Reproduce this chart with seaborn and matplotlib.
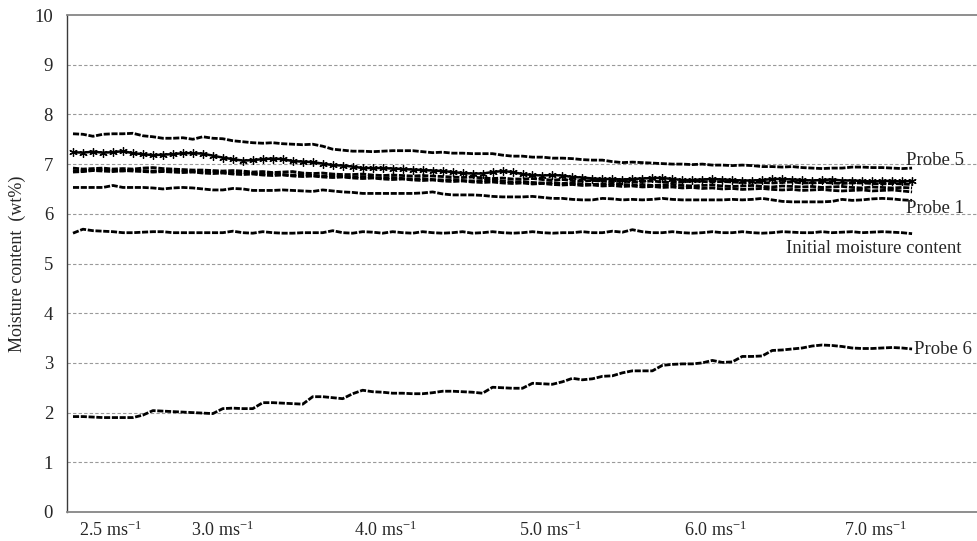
import numpy as np
import pandas as pd
import matplotlib
matplotlib.use("Agg")
import matplotlib.pyplot as plt
import seaborn as sns

# Moisture content (wt%) logged along the wind-speed ramp, one reading per sample
probe5 = [7.61, 7.60, 7.56, 7.60, 7.61, 7.61, 7.62, 7.57, 7.55, 7.52, 7.52, 7.53, 7.50, 7.55, 7.52,
          7.51, 7.47, 7.45, 7.43, 7.42, 7.43, 7.41, 7.40, 7.39, 7.40, 7.36, 7.30, 7.28, 7.26, 7.26,
          7.25, 7.26, 7.27, 7.27, 7.27, 7.25, 7.23, 7.24, 7.22, 7.22, 7.21, 7.21, 7.21, 7.18, 7.16,
          7.16, 7.14, 7.14, 7.12, 7.12, 7.11, 7.09, 7.08, 7.08, 7.05, 7.03, 7.04, 7.03, 7.02, 7.01,
          7.00, 7.00, 6.99, 7.00, 6.98, 6.98, 6.97, 6.98, 6.97, 6.95, 6.95, 6.94, 6.95, 6.93, 6.92,
          6.91, 6.92, 6.92, 6.94, 6.94, 6.93, 6.93, 6.92, 6.91, 6.92]

probe_star = [7.24, 7.23, 7.25, 7.23, 7.24, 7.26, 7.22, 7.20, 7.18, 7.19, 7.20, 7.22, 7.22, 7.21, 7.17,
              7.13, 7.10, 7.07, 7.08, 7.10, 7.11, 7.10, 7.06, 7.05, 7.04, 7.01, 6.98, 6.97, 6.95, 6.92,
              6.92, 6.92, 6.91, 6.90, 6.89, 6.88, 6.87, 6.86, 6.84, 6.82, 6.81, 6.81, 6.84, 6.86, 6.84,
              6.80, 6.78, 6.77, 6.78, 6.77, 6.74, 6.73, 6.71, 6.70, 6.70, 6.69, 6.70, 6.71, 6.72, 6.72,
              6.70, 6.68, 6.68, 6.69, 6.70, 6.69, 6.68, 6.67, 6.67, 6.68, 6.70, 6.70, 6.69, 6.68, 6.67,
              6.68, 6.69, 6.67, 6.67, 6.66, 6.65, 6.66, 6.66, 6.65, 6.66]

probe_a = [6.92, 6.90, 6.91, 6.92, 6.90, 6.91, 6.90, 6.92, 6.93, 6.91, 6.90, 6.89, 6.88, 6.88, 6.87,
           6.86, 6.87, 6.86, 6.84, 6.85, 6.83, 6.84, 6.85, 6.82, 6.81, 6.82, 6.80, 6.79, 6.79, 6.80,
           6.78, 6.77, 6.78, 6.77, 6.76, 6.77, 6.76, 6.75, 6.74, 6.73, 6.74, 6.72, 6.71, 6.72, 6.70,
           6.70, 6.71, 6.69, 6.68, 6.69, 6.67, 6.66, 6.67, 6.66, 6.65, 6.66, 6.64, 6.65, 6.66, 6.64,
           6.63, 6.64, 6.66, 6.65, 6.64, 6.65, 6.64, 6.63, 6.64, 6.63, 6.62, 6.63, 6.64, 6.62, 6.62,
           6.63, 6.62, 6.61, 6.62, 6.62, 6.61, 6.60, 6.61, 6.60, 6.59]

probe_b = [6.87, 6.86, 6.88, 6.89, 6.87, 6.86, 6.88, 6.87, 6.86, 6.87, 6.88, 6.86, 6.85, 6.84, 6.85,
           6.83, 6.82, 6.83, 6.81, 6.80, 6.81, 6.79, 6.78, 6.79, 6.77, 6.76, 6.77, 6.75, 6.74, 6.75,
           6.73, 6.72, 6.73, 6.71, 6.70, 6.71, 6.69, 6.68, 6.69, 6.67, 6.66, 6.67, 6.68, 6.66, 6.64,
           6.65, 6.63, 6.62, 6.63, 6.61, 6.62, 6.60, 6.59, 6.60, 6.61, 6.59, 6.58, 6.59, 6.57, 6.58,
           6.59, 6.57, 6.56, 6.57, 6.58, 6.56, 6.55, 6.56, 6.57, 6.55, 6.54, 6.56, 6.55, 6.54, 6.55,
           6.53, 6.54, 6.55, 6.53, 6.52, 6.54, 6.53, 6.52, 6.53, 6.52]

probe_c = [6.84, 6.85, 6.87, 6.86, 6.85, 6.87, 6.86, 6.85, 6.84, 6.85, 6.84, 6.83, 6.84, 6.82, 6.81,
           6.82, 6.80, 6.79, 6.80, 6.78, 6.77, 6.78, 6.76, 6.75, 6.76, 6.74, 6.73, 6.74, 6.72, 6.71,
           6.72, 6.70, 6.69, 6.70, 6.68, 6.67, 6.68, 6.66, 6.65, 6.66, 6.64, 6.63, 6.64, 6.62, 6.61,
           6.62, 6.60, 6.61, 6.59, 6.58, 6.59, 6.57, 6.58, 6.56, 6.57, 6.55, 6.56, 6.54, 6.55, 6.53,
           6.54, 6.52, 6.53, 6.51, 6.52, 6.50, 6.51, 6.49, 6.50, 6.51, 6.49, 6.48, 6.49, 6.47, 6.48,
           6.49, 6.47, 6.46, 6.47, 6.48, 6.46, 6.47, 6.48, 6.46, 6.44]

probe1 = [6.53, 6.53, 6.53, 6.53, 6.57, 6.53, 6.53, 6.53, 6.52, 6.50, 6.52, 6.53, 6.52, 6.50, 6.48,
          6.48, 6.51, 6.50, 6.47, 6.47, 6.47, 6.48, 6.47, 6.46, 6.45, 6.48, 6.46, 6.44, 6.43, 6.41,
          6.41, 6.41, 6.41, 6.41, 6.41, 6.42, 6.44, 6.40, 6.38, 6.38, 6.38, 6.37, 6.35, 6.34, 6.34,
          6.34, 6.35, 6.33, 6.31, 6.31, 6.29, 6.28, 6.28, 6.31, 6.30, 6.28, 6.29, 6.28, 6.29, 6.31,
          6.29, 6.28, 6.28, 6.28, 6.28, 6.28, 6.29, 6.28, 6.29, 6.31, 6.28, 6.25, 6.24, 6.24, 6.24,
          6.24, 6.25, 6.29, 6.27, 6.28, 6.30, 6.31, 6.30, 6.28, 6.27]

initial = [5.61, 5.69, 5.66, 5.65, 5.64, 5.62, 5.62, 5.63, 5.64, 5.64, 5.62, 5.62, 5.62, 5.62, 5.62,
           5.62, 5.65, 5.62, 5.61, 5.64, 5.62, 5.61, 5.61, 5.62, 5.62, 5.62, 5.66, 5.62, 5.61, 5.64,
           5.63, 5.61, 5.64, 5.62, 5.61, 5.64, 5.62, 5.61, 5.62, 5.64, 5.61, 5.62, 5.64, 5.62, 5.61,
           5.62, 5.64, 5.62, 5.61, 5.62, 5.62, 5.64, 5.62, 5.62, 5.65, 5.63, 5.68, 5.64, 5.62, 5.62,
           5.64, 5.62, 5.61, 5.62, 5.64, 5.62, 5.62, 5.64, 5.62, 5.61, 5.62, 5.64, 5.63, 5.62, 5.62,
           5.64, 5.62, 5.63, 5.64, 5.62, 5.63, 5.64, 5.63, 5.62, 5.60]

probe6 = [1.92, 1.92, 1.91, 1.90, 1.90, 1.90, 1.90, 1.95, 2.04, 2.03, 2.02, 2.01, 2.00, 1.99, 1.98,
          2.08, 2.09, 2.08, 2.08, 2.20, 2.20, 2.19, 2.18, 2.17, 2.32, 2.32, 2.30, 2.28, 2.38, 2.45,
          2.42, 2.41, 2.39, 2.39, 2.38, 2.38, 2.40, 2.43, 2.43, 2.42, 2.41, 2.39, 2.51, 2.50, 2.49,
          2.49, 2.59, 2.58, 2.57, 2.62, 2.69, 2.66, 2.68, 2.73, 2.74, 2.80, 2.84, 2.84, 2.84, 2.95,
          2.97, 2.98, 2.98, 3.00, 3.05, 3.01, 3.02, 3.13, 3.13, 3.14, 3.25, 3.26, 3.28, 3.30, 3.34,
          3.36, 3.35, 3.33, 3.30, 3.29, 3.29, 3.30, 3.31, 3.30, 3.28]

# Wind-speed steps and the sample index where each label sits
speed_labels = ["2.5", "3.0", "4.0", "5.0", "6.0", "7.0"]
speed_ticks = [3.7, 15.0, 31.3, 47.8, 64.3, 80.3]

sample = np.arange(len(probe5))

sns.set_style("white")
plt.rcParams["font.family"] = ["Liberation Serif", "DejaVu Serif"]
plt.rcParams["mathtext.fontset"] = "custom"
plt.rcParams["mathtext.rm"] = "Liberation Serif"
plt.rcParams["mathtext.it"] = "Liberation Serif:italic"

fig = plt.figure(figsize=(9.78, 5.41), dpi=100)
ax = fig.add_axes([67 / 978, 29 / 541, 1 - 67 / 978, 497 / 541])

dash = (0, (2.2, 0.6))
for series in [probe5, probe_a, probe_b, probe_c, probe1, initial, probe6]:
    sns.lineplot(x=sample, y=series, ax=ax, color="black", linewidth=2.0,
                 linestyle=dash, estimator=None, sort=False)

# Star-marked probe: dense small asterisks over a thin line
sns.lineplot(x=sample, y=probe_star, ax=ax, color="black", linewidth=1.8,
             marker=(6, 2, 0), markersize=6, markeredgewidth=0.9,
             markeredgecolor="black", estimator=None, sort=False)

ax.set_ylim(0, 10)
ax.set_xlim(-0.6, 90.6)
ax.set_yticks(np.arange(0, 11, 1))
ax.set_yticklabels([str(v) for v in range(0, 11)], fontsize=13.5)
ax.set_xticks(speed_ticks)
ax.set_xticklabels([f"{s} ms$^{{-1}}$" for s in speed_labels], fontsize=13)

for v in range(1, 10):
    ax.axhline(v, color="#9a9a9a", linewidth=0.8, linestyle=(0, (3, 2)), zorder=0)

for side in ["top", "bottom"]:
    ax.spines[side].set_color("#868686")
    ax.spines[side].set_linewidth(1.3)
ax.spines["left"].set_color("#3a3a3a")
ax.spines["left"].set_linewidth(1.0)
ax.spines["right"].set_visible(False)

ax.tick_params(axis="y", direction="out", length=6, width=0.9, color="#868686", pad=4)
ax.tick_params(axis="x", length=0, pad=6)
ax.set_ylabel("Moisture content  (wt%)", fontsize=13, labelpad=6)
ax.set_xlabel("")

ax.text(83.4, 7.08, "Probe 5", fontsize=13.5, ha="left", va="center")
ax.text(83.4, 6.10, "Probe 1", fontsize=13.5, ha="left", va="center")
ax.text(88.9, 5.31, "Initial moisture content", fontsize=13.5, ha="right", va="center")
ax.text(84.2, 3.26, "Probe 6", fontsize=13.5, ha="left", va="center")

fig.savefig("out.png", dpi=100)
